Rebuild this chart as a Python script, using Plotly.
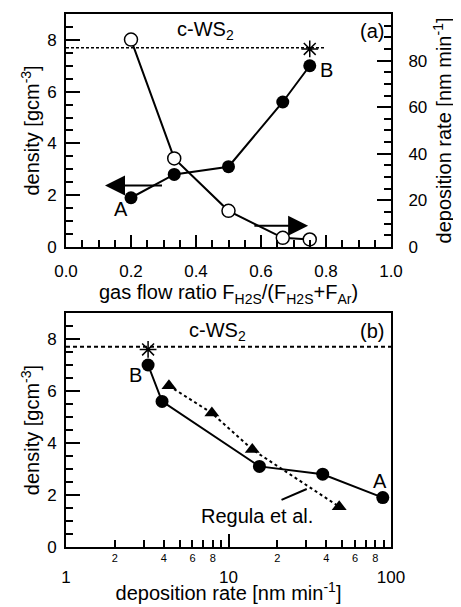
import math
import plotly.graph_objects as go

# ---------------- data ----------------
# panel (a): vs gas flow ratio
flow_ratio = [0.2, 0.333, 0.5, 0.667, 0.75]
density = [1.9, 2.8, 3.1, 5.6, 7.0]
dep_rate = [89, 38, 15.5, 3.9, 3.2]
cws2_density = 7.7
star_density = 7.65
# panel (b): Regula et al.
regula_rate = [4.3, 7.9, 14.0, 48]
regula_density = [6.2, 5.15, 3.75, 1.55]

# tick labels
flow_ticks = [0, 0.2, 0.4, 0.6, 0.8, 1.0]
flow_ticktext = ["0.0", "0.2", "0.4", "0.6", "0.8", "1.0"]
density_ticks = [0, 2, 4, 6, 8]
rate_ticks = [0, 20, 40, 60, 80, 100]
log_minor_labels = [2, 4, 6, 8, 20, 40, 60, 80]
log_minor_text = ["2", "4", "6", "8", "2", "4", "6", "8"]
log_minor_ticks = [3, 5, 7, 9, 30, 50, 70, 90]
log_major = [1, 10, 100]
log_major_text = ["1", "10", "100"]

FONT = "Liberation Sans, Arial, Helvetica, sans-serif"
BLACK = "black"
TICK_SIZE = 17
TITLE_SIZE = 20
LABEL_SIZE = 20

fig = go.Figure()

# ---------- panel (a) ----------
fig.add_trace(go.Scatter(x=[0, 0.8], y=[cws2_density, cws2_density], mode="lines",
                         line=dict(color=BLACK, width=1.5, dash="3px,2px"),
                         xaxis="x", yaxis="y", showlegend=False, hoverinfo="skip"))
fig.add_trace(go.Scatter(x=flow_ratio, y=density, mode="lines+markers",
                         line=dict(color=BLACK, width=2),
                         marker=dict(symbol="circle", size=13, color=BLACK),
                         xaxis="x", yaxis="y", showlegend=False))
fig.add_trace(go.Scatter(x=flow_ratio, y=dep_rate, mode="lines+markers",
                         line=dict(color=BLACK, width=2),
                         marker=dict(symbol="circle", size=13, color="white",
                                     line=dict(color=BLACK, width=1.5)),
                         xaxis="x", yaxis="y3", showlegend=False))
fig.add_trace(go.Scatter(x=[flow_ratio[-1]], y=[star_density], mode="markers",
                         marker=dict(symbol="asterisk-open", size=14, color=BLACK,
                                     line=dict(color=BLACK, width=1.5)),
                         xaxis="x", yaxis="y", showlegend=False))

# ---------- panel (b) ----------
fig.add_trace(go.Scatter(x=[1, 100], y=[cws2_density, cws2_density], mode="lines",
                         line=dict(color=BLACK, width=2, dash="4px,3px"),
                         xaxis="x4", yaxis="y2", showlegend=False, hoverinfo="skip"))
fig.add_trace(go.Scatter(x=regula_rate, y=regula_density, mode="lines+markers",
                         line=dict(color=BLACK, width=2, dash="dot"),
                         marker=dict(symbol="triangle-up", size=13, color=BLACK),
                         xaxis="x2", yaxis="y2", showlegend=False))
fig.add_trace(go.Scatter(x=dep_rate, y=density, mode="lines+markers",
                         line=dict(color=BLACK, width=2),
                         marker=dict(symbol="circle", size=13, color=BLACK),
                         xaxis="x2", yaxis="y2", showlegend=False))
fig.add_trace(go.Scatter(x=[dep_rate[-1]], y=[7.6], mode="markers",
                         marker=dict(symbol="asterisk-open", size=14, color=BLACK,
                                     line=dict(color=BLACK, width=1.5)),
                         xaxis="x2", yaxis="y2", showlegend=False))
# leader line to "Regula et al."
fig.add_trace(go.Scatter(x=[21.2, 30.3], y=[1.81, 2.23], mode="lines",
                         line=dict(color=BLACK, width=2),
                         xaxis="x2", yaxis="y2", showlegend=False, hoverinfo="skip"))

tickfont = dict(family=FONT, size=TICK_SIZE, color=BLACK)
titlefont = dict(family=FONT, size=TITLE_SIZE, color=BLACK)
common = dict(showline=True, linecolor=BLACK, linewidth=2, ticks="inside",
              tickcolor=BLACK, tickwidth=2, showgrid=False, zeroline=False,
              tickfont=tickfont, automargin=False)

def minor(**kw):
    d = dict(ticklen=7, tickwidth=2, ticks="inside", tickcolor=BLACK, showgrid=False)
    d.update(kw)
    return d

# the page body adds an 8px offset, so the figure is 8px smaller and margins shifted
fig.update_layout(
    template="none",
    width=453, height=599,
    margin=dict(l=58, r=70, t=6, b=60),
    plot_bgcolor="white", paper_bgcolor="white",
    font=dict(family=FONT, size=TICK_SIZE, color=BLACK),
    showlegend=False,
    xaxis=dict(domain=[0, 1], anchor="y", range=[0, 1], tickmode="array",
               tickvals=flow_ticks, ticktext=flow_ticktext, ticklabelstandoff=8,
               ticklen=12, mirror=True, minor=minor(dtick=0.05),
               title=dict(text="gas flow ratio F<sub>H2S</sub>/(F<sub>H2S</sub>+F<sub>Ar</sub>)",
                          font=titlefont, standoff=0),
               **common),
    yaxis=dict(domain=[0.563, 1], anchor="x", range=[0, 9], tickmode="array",
               tickvals=density_ticks, ticklen=14, mirror=True, minor=minor(dtick=0.5),
               ticklabelstandoff=4,
               title=dict(text="density [gcm<sup>-3</sup>]", font=titlefont, standoff=2),
               **common),
    yaxis3=dict(overlaying="y", anchor="x", side="right", range=[0, 100], tickmode="array",
                tickvals=rate_ticks, ticklen=14, minor=minor(dtick=5), ticklabelstandoff=12,
                title=dict(text="deposition rate [nm min<sup>-1</sup>]", font=titlefont,
                           standoff=11),
                **common),
    xaxis2=dict(domain=[0, 1], anchor="y2", type="log", range=[0, 2], tickmode="array",
                tickvals=log_minor_labels, ticktext=log_minor_text, ticklen=7, mirror=True,
                minor=minor(tickmode="array", tickvals=log_minor_ticks),
                title=dict(text="deposition rate [nm min<sup>-1</sup>]", font=titlefont,
                           standoff=23),
                **{**common, "tickfont": dict(family=FONT, size=11, color=BLACK)}),
    xaxis4=dict(overlaying="x2", anchor="y2", side="bottom", type="log", range=[0, 2],
                tickmode="array", tickvals=log_major, ticktext=log_major_text,
                ticklen=13, ticklabelstandoff=14,
                **common),
    yaxis2=dict(domain=[0, 0.439], anchor="x2", range=[0, 9], tickmode="array",
                tickvals=density_ticks, ticklen=14, mirror=True, minor=minor(dtick=0.5),
                ticklabelstandoff=4,
                title=dict(text="density [gcm<sup>-3</sup>]", font=titlefont, standoff=2),
                **common),
)

def txt(x, y, s, xref, yref, size=LABEL_SIZE):
    fig.add_annotation(x=x, y=y, text=s, xref=xref, yref=yref, showarrow=False,
                       font=dict(family=FONT, size=size, color=BLACK))

# panel (a) labels
txt(0.43, 8.35, "c-WS<sub>2</sub>", "x", "y")
txt(0.94, 8.35, "(a)", "x", "y")
txt(0.17, 1.45, "A", "x", "y")
txt(0.8, 6.85, "B", "x", "y")
# arrows
fig.add_annotation(x=0.12, y=2.37, ax=0.3, ay=2.37, xref="x", yref="y", axref="x", ayref="y",
                   text="", showarrow=True, arrowhead=2, arrowsize=2, arrowwidth=2,
                   arrowcolor=BLACK)
fig.add_annotation(x=0.745, y=0.82, ax=0.575, ay=0.82, xref="x", yref="y", axref="x", ayref="y",
                   text="", showarrow=True, arrowhead=2, arrowsize=2, arrowwidth=2,
                   arrowcolor=BLACK)

# panel (b) labels
txt(math.log10(8.6), 8.3, "c-WS<sub>2</sub>", "x2", "y2")
txt(math.log10(76), 8.3, "(b)", "x2", "y2")
txt(math.log10(2.66), 6.6, "B", "x2", "y2")
txt(math.log10(86), 2.55, "A", "x2", "y2")
txt(math.log10(14.9), 1.2, "Regula et al.", "x2", "y2")

fig.write_html("out.html")
